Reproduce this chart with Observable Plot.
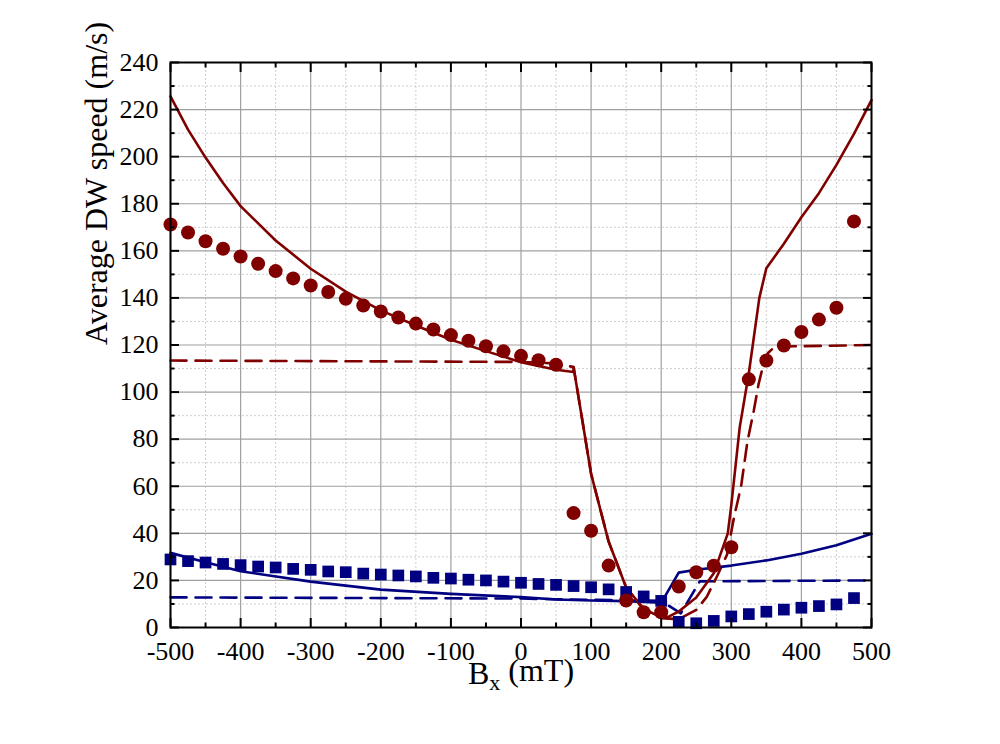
<!DOCTYPE html>
<html>
<head>
<meta charset="utf-8">
<script src="https://cdn.jsdelivr.net/npm/d3@7"></script>
<script src="https://cdn.jsdelivr.net/npm/@observablehq/plot@0.6"></script>
<style>
  html, body { margin: 0; padding: 0; background: #ffffff; }
  #chart { width: 1000px; height: 744px; }
  .serif svg text { font-family: "Liberation Serif", serif !important; }
</style>
</head>
<body>
<div id="chart" class="serif"></div>
<script>
// ---- Data ----
const xTicks = [-500, -400, -300, -200, -100, 0, 100, 200, 300, 400, 500];
const xMinorTicks = [-450, -350, -250, -150, -50, 50, 150, 250, 350, 450];
const yTicks = [0, 20, 40, 60, 80, 100, 120, 140, 160, 180, 200, 220, 240];
const yMinorTicks = [10, 30, 50, 70, 90, 110, 130, 150, 170, 190, 210, 230];

// symbol positions (mT)
const symbolBx = [-500, -475, -450, -425, -400, -375, -350, -325, -300, -275,
                  -250, -225, -200, -175, -150, -125, -100, -75, -50, -25,
                  0, 25, 50, 75, 100, 125, 150, 175, 200, 225,
                  250, 275, 300, 325, 350, 375, 400, 425, 450, 475];
// red circles (m/s)
const circleSpeed = [171.2, 167.8, 164.1, 160.9, 157.6, 154.5, 151.4, 148.3, 145.3, 142.5,
                     139.6, 136.8, 134.2, 131.7, 129.1, 126.6, 124.2, 121.8, 119.5, 117.3,
                     115.4, 113.5, 111.6, 48.6, 41.1, 26.3, 11.5, 6.5, 6.5, 17.4,
                     23.5, 26.2, 34.1, 105.4, 113.4, 119.8, 125.5, 130.8, 135.8, 172.5];
// blue squares (m/s)
const squareSpeed = [28.9, 28.2, 27.6, 27.0, 26.5, 25.9, 25.5, 24.9, 24.5, 23.8,
                     23.5, 22.9, 22.5, 22.1, 21.7, 21.1, 20.8, 20.3, 20.0, 19.5,
                     19.0, 18.5, 18.1, 17.6, 17.1, 16.2, 15.1, 13.2, 11.3, 2.4,
                     1.8, 2.8, 4.7, 5.7, 6.7, 7.6, 8.4, 9.1, 9.8, 12.5];

// red solid line
const redSolidBx = [-500, -475, -450, -425, -400, -350, -300, -250, -200, -150, -100, -50, 0, 50, 75, 75,
                    100, 125, 150, 175, 200, 210, 225, 250, 275, 295, 300, 312, 325, 340, 350,
                    375, 400, 425, 450, 475, 500];
const redSolidV = [225.6, 211.5, 199.6, 188.8, 179.0, 164.4, 152.4, 142.7, 134.7, 128.3, 122.2, 117.4, 112.7, 109.5, 108.5, 110.6,
                   65.3, 36.5, 17.0, 8.0, 4.2, 4.5, 6.8, 12.7, 23.0, 40.0, 52.0, 85.0, 108.0, 140.0, 152.6,
                   163.0, 174.3, 184.5, 196.5, 209.7, 224.0];
// red dashed line
const redDashBx = [-500, 0, 50, 75, 100, 125, 150, 175, 200, 225, 250, 265, 280, 294, 304, 314,
                   323, 332, 339, 346, 352, 362, 500];
const redDashV = [113.4, 112.8, 112.2, 110.6, 65.3, 36.5, 17.0, 7.5, 4.0, 3.5, 7.5, 13.0, 22.0, 31.0, 47.0, 60.0,
                  79.0, 92.0, 103.5, 112.0, 116.5, 119.3, 120.0];
// blue solid line
const blueSolidBx = [-500, -450, -400, -300, -200, -100, 0, 50, 100, 150, 200, 225, 250, 300, 350, 400, 450, 500];
const blueSolidV = [31.7, 27.7, 23.9, 19.5, 16.1, 14.3, 12.9, 11.9, 11.5, 11.2, 10.5, 23.3, 24.5, 26.3, 28.5, 31.3, 34.9, 39.8];
// blue dashed line
const blueDashBx = [-500, 0, 50, 200, 228, 255, 500];
const blueDashV = [12.8, 12.3, 12.0, 11.3, 6.0, 19.6, 20.0];

// ---- Tables built from the arrays ----
const circles = symbolBx.map((x, i) => ({x, v: circleSpeed[i]}));
const squares = symbolBx.map((x, i) => ({x, v: squareSpeed[i]}));
const toPts = (xs, vs) => xs.map((x, i) => ({x, v: vs[i]}));
const redSolid = toPts(redSolidBx, redSolidV);
const redDash = toPts(redDashBx, redDashV);
const blueSolid = toPts(blueSolidBx, blueSolidV);
const blueDash = toPts(blueDashBx, blueDashV);

const RED = "#800000";
const BLUE = "#000080";
const SERIF = "Liberation Serif";
const fmt = d => String(d);
const blank = () => "";

const chart = Plot.plot({
  width: 1000,
  height: 744,
  marginLeft: 170,
  marginRight: 129,
  marginTop: 62,
  marginBottom: 117,
  x: {domain: [-500, 500], label: null},
  y: {domain: [0, 240], label: null},
  style: {fontFamily: SERIF, fontSize: "26px", background: "#ffffff", color: "#000"},
  marks: [
    // grid
    Plot.gridX(xMinorTicks, {stroke: "#cfcfcf", strokeOpacity: 1, strokeWidth: 1, strokeDasharray: "2,2"}),
    Plot.gridY(yMinorTicks, {stroke: "#cfcfcf", strokeOpacity: 1, strokeWidth: 1, strokeDasharray: "2,2"}),
    Plot.gridX(xTicks, {stroke: "#a0a0a0", strokeOpacity: 1, strokeWidth: 1.2}),
    Plot.gridY(yTicks, {stroke: "#a0a0a0", strokeOpacity: 1, strokeWidth: 1.2}),
    // lines
    Plot.line(blueDash, {x: "x", y: "v", stroke: BLUE, strokeWidth: 2.6, strokeDasharray: "16,9"}),
    Plot.line(redDash, {x: "x", y: "v", stroke: RED, strokeWidth: 2.6, strokeDasharray: "16,9"}),
    Plot.line(blueSolid, {x: "x", y: "v", stroke: BLUE, strokeWidth: 2.6}),
    Plot.line(redSolid, {x: "x", y: "v", stroke: RED, strokeWidth: 2.6}),
    // symbols
    Plot.dot(squares, {x: "x", y: "v", symbol: "square", r: 6.6, fill: BLUE, stroke: "none"}),
    Plot.dot(circles, {x: "x", y: "v", symbol: "circle", r: 7, fill: RED, stroke: "none"}),
    // axes (inward ticks on all four sides)
    Plot.axisX(xTicks, {anchor: "bottom", tickSize: -9, tickPadding: 23, tickFormat: fmt, strokeWidth: 2, fontSize: 26, fontFamily: SERIF, label: null}),
    Plot.axisX(xMinorTicks, {anchor: "bottom", tickSize: -4.5, tickFormat: blank, strokeWidth: 2, label: null}),
    Plot.axisX(xTicks, {anchor: "top", tickSize: -9, tickFormat: blank, strokeWidth: 2, label: null}),
    Plot.axisX(xMinorTicks, {anchor: "top", tickSize: -4.5, tickFormat: blank, strokeWidth: 2, label: null}),
    Plot.axisY(yTicks, {anchor: "left", tickSize: -9, tickPadding: 21, tickFormat: fmt, strokeWidth: 2, fontSize: 26, fontFamily: SERIF, label: null}),
    Plot.axisY(yMinorTicks, {anchor: "left", tickSize: -4.5, tickFormat: blank, strokeWidth: 2, label: null}),
    Plot.axisY(yTicks, {anchor: "right", tickSize: -9, tickFormat: blank, strokeWidth: 2, label: null}),
    Plot.axisY(yMinorTicks, {anchor: "right", tickSize: -4.5, tickFormat: blank, strokeWidth: 2, label: null}),
    Plot.frame({stroke: "#000", strokeWidth: 2}),
    // axis titles
    Plot.text(["Average DW speed (m/s)"], {text: d => d, frameAnchor: "left", dx: -74, rotate: -90, fontSize: 32, fontFamily: SERIF, fill: "#000"}),
    Plot.text(["Bx (mT)"], {text: d => d, frameAnchor: "bottom", dy: 56, fontSize: 32, fontFamily: SERIF, fill: "#000"})
  ]
});

// subscript x in the x-axis title
d3.select(chart).selectAll("text").each(function() {
  if (this.textContent === "Bx (mT)") {
    const t = d3.select(this);
    t.text(null);
    t.append("tspan").text("B");
    t.append("tspan").attr("dy", "0.3em").attr("font-size", "22px").text("x");
    t.append("tspan").attr("dy", "-0.3em").text(" (mT)");
  }
});
d3.select(chart).selectAll("text").attr("font-family", SERIF);

document.getElementById("chart").appendChild(chart);
</script>
</body>
</html>
